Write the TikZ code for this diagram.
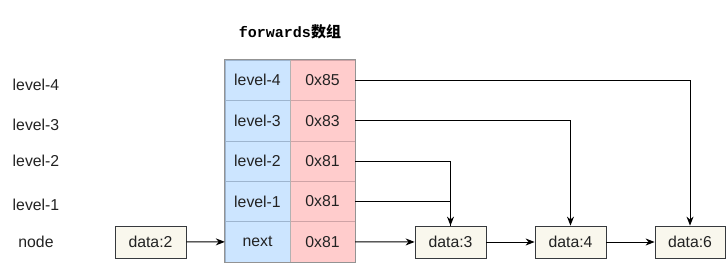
\documentclass[tikz,border=0pt]{standalone}
\usepackage{fontspec}
\setmainfont{Liberation Sans}
\newfontfamily\titlemono{Liberation Mono}
\newfontfamily\cjkfont{Noto Sans CJK SC}
\usetikzlibrary{arrows.meta,positioning}
\definecolor{LV}{HTML}{CCE5FF}
\definecolor{LVline}{HTML}{9DB5CF}
\definecolor{PT}{HTML}{FFCCCC}
\definecolor{PTline}{HTML}{CFA3A6}
\definecolor{DT}{HTML}{F9F7ED}
\definecolor{ED}{HTML}{36393D}
\definecolor{TX}{HTML}{222222}

\tikzset{
  txt/.style={text=TX, font=\fontsize{15.8}{19}\selectfont},
  cell/.style={txt, minimum width=65pt, minimum height=40.4pt, inner sep=0pt},
  datbox/.style={txt, draw=ED, fill=DT, line width=0.8pt,
    minimum width=71pt, minimum height=32pt, inner sep=0pt},
  link/.style={-{Stealth[length=9pt,width=7pt]}, line width=1pt},
}

\begin{document}
\begin{tikzpicture}[x=1pt,y=-1pt]
  \useasboundingbox (0,0) rectangle (726,263);

  \node[font=\fontsize{15}{18}\selectfont\bfseries] (title) at (290,32)
    {\titlemono forwards\cjkfont 数组};

  \foreach \i/\p/\v in {4/0/0x85,3/1/0x83,2/2/0x81,1/3/0x81}{
    \node[cell, fill=LV, draw=LVline] (lv\i) at (257.5,80.2+\p*40.4) {level-\i};
    \node[cell, fill=PT, draw=PTline] (pt\i) at (322.5,80.2+\p*40.4) {\v};
  }
  \node[cell, fill=LV, draw=LVline] (lv0) at (257.5,241.8) {next};
  \node[cell, fill=PT, draw=PTline] (pt0) at (322.5,241.8) {0x81};
  \draw[gray!85, line width=0.8pt] (lv4.north west) rectangle (pt0.south east);
  \draw[gray!60, line width=0.6pt] (lv4.north east) -- (lv0.south east);

  \node[txt] (lab4) at (36,85) {level-4};
  \node[txt] (lab3) at (36,125) {level-3};
  \node[txt] (lab2) at (36,161) {level-2};
  \node[txt] (lab1) at (36,205) {level-1};
  \node[txt] (labn) at (36,242) {node};

  \node[datbox] (d2) at (150.5,242) {data:2};
  \node[datbox] (d3) at (450.5,242) {data:3};
  \node[datbox] (d4) at (570.5,242) {data:4};
  \node[datbox, minimum width=70pt] (d6) at (690,242) {data:6};

  \draw[link] (d2) -- (lv0);
  \draw[link] (pt0) -- (d3);
  \draw[link] (d3) -- (d4);
  \draw[link] (d4) -- (d6);
  \draw[link] (pt4.east) -| (d6.north);
  \draw[link] (pt3.east) -| (d4.north);
  \draw[link] (pt2.east) -| (d3.north);
  \draw[line width=1pt] (pt1.east) -| (d3.north);
\end{tikzpicture}
\end{document}
